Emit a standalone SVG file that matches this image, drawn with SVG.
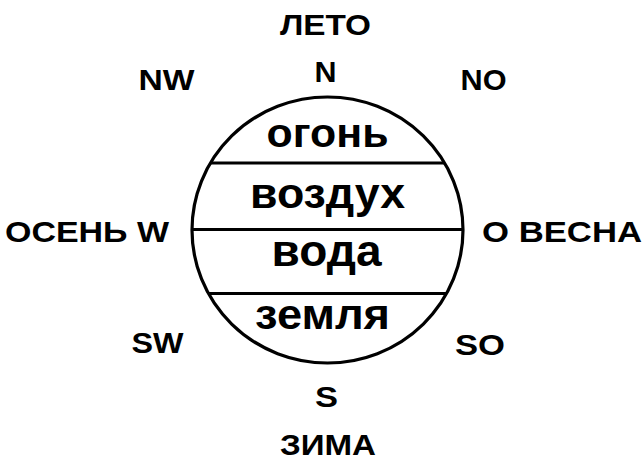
<svg xmlns="http://www.w3.org/2000/svg" width="643" height="461" viewBox="0 0 643 461">
  <style>
    .lbl { font-family: "Liberation Sans", Arial, sans-serif; font-weight: bold; font-size: 30px; fill: #000; }
    .el { font-family: "Liberation Sans", Arial, sans-serif; font-weight: bold; fill: #000; }
    .ln { stroke: #000; stroke-width: 3.2; fill: none; }
  </style>
  <rect width="643" height="461" fill="#fff"/>
  <g id="circle">
    <ellipse class="ln" cx="327.5" cy="230" rx="135.5" ry="133" stroke-width="3.6"/>
  </g>
  <g id="dividers">
    <line class="ln" x1="210.5" y1="163" x2="444.5" y2="163"/>
    <line class="ln" x1="192" y1="229.5" x2="463" y2="229.5"/>
    <line class="ln" x1="208.5" y1="293.5" x2="446.5" y2="293.5"/>
  </g>
  <g id="elements">
    <text class="el" x="266.5" y="147" font-size="41" textLength="122" lengthAdjust="spacingAndGlyphs">огонь</text>
    <text class="el" x="250" y="208" font-size="42" textLength="155" lengthAdjust="spacingAndGlyphs">воздух</text>
    <text class="el" x="271.5" y="266" font-size="44" textLength="110" lengthAdjust="spacingAndGlyphs">вода</text>
    <text class="el" x="255" y="329" font-size="42" textLength="135" lengthAdjust="spacingAndGlyphs">земля</text>
  </g>
  <g id="labels">
    <text class="lbl" x="280" y="35" textLength="91" lengthAdjust="spacingAndGlyphs">ЛЕТО</text>
    <text class="lbl" x="314.5" y="82" textLength="22" lengthAdjust="spacingAndGlyphs">N</text>
    <text class="lbl" x="138.5" y="90" textLength="56" lengthAdjust="spacingAndGlyphs">NW</text>
    <text class="lbl" x="460.5" y="90" textLength="46" lengthAdjust="spacingAndGlyphs">NO</text>
    <text class="lbl" x="5" y="242" textLength="164" lengthAdjust="spacingAndGlyphs">ОСЕНЬ W</text>
    <text class="lbl" x="482" y="242" textLength="160" lengthAdjust="spacingAndGlyphs">О ВЕСНА</text>
    <text class="lbl" x="131.5" y="353" textLength="52" lengthAdjust="spacingAndGlyphs">SW</text>
    <text class="lbl" x="455" y="355" textLength="50" lengthAdjust="spacingAndGlyphs">SO</text>
    <text class="lbl" x="315" y="407" textLength="23" lengthAdjust="spacingAndGlyphs">S</text>
    <text class="lbl" x="280" y="454.5" textLength="96" lengthAdjust="spacingAndGlyphs">ЗИМА</text>
  </g>
</svg>
